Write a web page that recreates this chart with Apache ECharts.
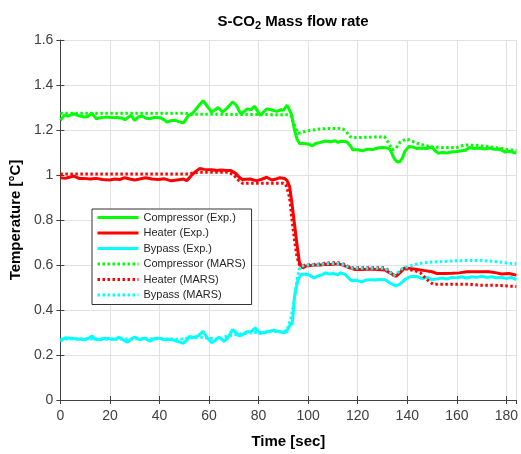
<!DOCTYPE html>
<html>
<head>
<meta charset="utf-8">
<script src="https://cdn.jsdelivr.net/npm/echarts@6/dist/echarts.min.js"></script>
<style>
	html,body{margin:0;padding:0;background:#fff;}
	#chart{width:521px;height:454px;}
</style>
</head>
<body>
<div id="chart"></div>
<script>
	// Compressor (Exp.)
	var compExpT=[0,1.6,3,5.5,7,9.5,11,12.7,14.5,16.5,18.7,21,23,25,26,28.5,30,31.5,33,34.5,36,38,40.4,42,43,45,46.4,48,49.7,51.7,53,54.3,56,57.6,59,61,62.5,63.6,65.5,67.5,69.5,71,72.8,74,75.4,77,78.3,80.7,82,83.3,85,87.3,89,90,91.5,93.2,94.5,95.5,96.5,98,100,101.7,103,105,107,109,111,112,113,115.6,117,118,120,122,124,126,128,130,132,133,134,135,136,137,138,139,140.7,142,144,146,148,150,151,152.5,154,156,158,160,162,163.5,165,167,169,171,173,175,177,179.6,181,183,184];
	var compExpV=[1.243,1.265,1.262,1.272,1.265,1.258,1.26,1.275,1.25,1.255,1.258,1.255,1.256,1.252,1.246,1.265,1.243,1.258,1.262,1.252,1.25,1.256,1.254,1.245,1.235,1.242,1.243,1.236,1.232,1.265,1.27,1.287,1.31,1.33,1.31,1.28,1.29,1.30,1.28,1.30,1.325,1.31,1.272,1.28,1.294,1.29,1.306,1.265,1.28,1.294,1.29,1.283,1.29,1.287,1.311,1.272,1.2,1.16,1.14,1.14,1.138,1.13,1.14,1.145,1.151,1.148,1.152,1.145,1.15,1.148,1.13,1.112,1.112,1.108,1.115,1.113,1.12,1.122,1.12,1.115,1.09,1.068,1.058,1.06,1.075,1.105,1.127,1.125,1.118,1.12,1.118,1.125,1.11,1.097,1.1,1.098,1.103,1.104,1.108,1.11,1.122,1.118,1.12,1.116,1.12,1.114,1.116,1.102,1.106,1.1,1.098];

	// Heater (Exp.)
	var heatExpT=[0,2,3.5,5.5,7.5,9.5,12,14.5,17,19.8,22,24,26,28,30,32,34.4,37,39.6,42,44.8,47,49.7,51,53,54.5,56.3,58,61,63,65,67,68.8,71,72.2,73.4,76.6,78,79.2,81,83.3,85.3,87,88.6,90.6,91.5,92.5,93.5,94.5,95.5,96.5,97.8,99,101,103,105,107,109,112,114,116,119,122,125,128,131,133,135.4,137,139,141,144,147,150,152,155,158,161,164,167,170,173,176,178,181,184];
	var heatExpV=[0.988,0.985,0.99,0.995,0.985,0.985,0.982,0.985,0.98,0.978,0.982,0.98,0.988,0.982,0.978,0.982,0.988,0.982,0.98,0.983,0.974,0.978,0.982,0.975,0.999,1.015,1.029,1.025,1.023,1.02,1.022,1.02,1.02,1.005,0.99,0.98,0.982,0.978,0.975,0.98,0.99,0.978,0.982,0.988,0.984,0.975,0.95,0.87,0.78,0.69,0.61,0.587,0.595,0.598,0.6,0.6,0.603,0.602,0.605,0.6,0.59,0.58,0.58,0.582,0.58,0.578,0.565,0.55,0.565,0.587,0.585,0.58,0.575,0.57,0.562,0.562,0.563,0.565,0.57,0.57,0.57,0.57,0.565,0.56,0.562,0.555];

	// Bypass (Exp.)
	var bypExpT=[0,1,2,4,6,8,10,11.5,12.8,14,16,18,20,22,23.5,25,27,28.5,30,32,34,36,38,40,42,44,46,48,49.5,51,52,54,55.5,57.6,59,61,62.5,64,66,67.5,69.5,71,72,73.5,75,77,78.7,80.5,82,84,86,88,90,91.2,92.6,93.6,94.5,95.9,97.2,99,100.5,102.4,104,105.5,107,108.5,110,112,113,115,116,117.5,119.5,121.5,123,125,127,129,131,133,135.3,137,139,141,142.7,144,146,148,150,152,154,156,158,160,162,164,166,168,170,172,174,176,178,180,182,184];
	var bypExpV=[0.26,0.27,0.277,0.275,0.272,0.27,0.268,0.275,0.285,0.27,0.268,0.275,0.272,0.27,0.278,0.27,0.257,0.27,0.28,0.268,0.275,0.262,0.272,0.275,0.268,0.27,0.265,0.258,0.252,0.265,0.282,0.278,0.285,0.305,0.28,0.255,0.265,0.28,0.26,0.275,0.313,0.3,0.285,0.29,0.302,0.305,0.32,0.295,0.3,0.305,0.31,0.305,0.3,0.302,0.332,0.34,0.463,0.536,0.558,0.56,0.555,0.543,0.552,0.556,0.565,0.56,0.562,0.557,0.565,0.558,0.545,0.53,0.532,0.525,0.532,0.535,0.533,0.536,0.535,0.52,0.507,0.515,0.535,0.548,0.55,0.548,0.54,0.545,0.535,0.538,0.542,0.538,0.545,0.543,0.548,0.542,0.548,0.545,0.55,0.545,0.548,0.543,0.545,0.54,0.545,0.535];

	// Compressor (MARS)
	var compMarsT=[0,50,55,90,91.5,93,94.5,96,97.5,100,104.4,108,112.3,114,115.5,117,118.3,125,130.8,132,134,135.5,137,139.4,141,144,147,150.6,155,159.8,162,163.8,168,173,177,181,184];
	var compMarsV=[1.275,1.275,1.27,1.268,1.268,1.265,1.22,1.185,1.19,1.197,1.204,1.207,1.207,1.205,1.19,1.17,1.166,1.168,1.17,1.15,1.112,1.12,1.145,1.16,1.155,1.141,1.132,1.124,1.122,1.122,1.13,1.133,1.132,1.125,1.12,1.112,1.11];

	// Heater (MARS)
	var heatMarsT=[0,52,54,56,68,70,72,73.5,90,91,92.5,93.5,94.5,95.5,96.5,98,101,104,108,112,114,116,118,124,131,133,134.5,136,138.5,140.5,143,145.3,147,149,150.6,155,160,165,170,175,180,184];
	var heatMarsV=[1.005,1.005,1.01,1.012,1.012,1.0,0.975,0.963,0.963,0.958,0.9,0.8,0.71,0.635,0.6,0.598,0.602,0.604,0.609,0.61,0.605,0.595,0.587,0.588,0.588,0.57,0.551,0.56,0.585,0.58,0.575,0.565,0.545,0.525,0.514,0.515,0.515,0.514,0.51,0.51,0.507,0.504];

	// Bypass (MARS)
	var bypMarsT=[0,10,20,30,40,48,52,56,60,64,66,70,74,78,82,86,90,91.5,93,94.5,95.5,96.3,97.2,99,101,104,108,112,114,116,118,124,131,133,134.5,136,138,141,144,147,150,155,160,165,170,174,178,181,184];
	var bypMarsV=[0.27,0.272,0.27,0.272,0.272,0.27,0.275,0.28,0.275,0.27,0.28,0.29,0.295,0.3,0.3,0.305,0.302,0.31,0.36,0.449,0.53,0.58,0.595,0.598,0.6,0.602,0.606,0.607,0.602,0.592,0.585,0.586,0.585,0.568,0.553,0.565,0.585,0.595,0.605,0.61,0.613,0.616,0.619,0.62,0.62,0.617,0.612,0.608,0.606];

	var xTicks=[0,20,40,60,80,100,120,140,160,180];

	var font='"Liberation Sans", Arial, Helvetica, sans-serif';
	var axisColor='#404040';

	function pairs(t,v){
		return t.map(function(x,i){return [x,v[i]];});
	}

	function solid(name,color,t,v){
		return {
			name:name,
			type:'line',
			symbol:'none',
			animation:false,
			lineStyle:{color:color,width:3},
			itemStyle:{color:color},
			data:pairs(t,v)
		};
	}

	function dotted(name,color,t,v){
		return {
			name:name,
			type:'line',
			symbol:'none',
			animation:false,
			lineStyle:{color:color,width:3,type:[2.5,2.5],cap:'butt'},
			itemStyle:{color:color},
			data:pairs(t,v)
		};
	}

	var chart=echarts.init(document.getElementById('chart'));
	chart.setOption({
		backgroundColor:'#fff',
		textStyle:{fontFamily:font},
		title:{
			text:'S-CO{sub|2} Mass flow rate',
			left:288,
			top:7,
			textAlign:'center',
			textStyle:{
				fontFamily:font,fontSize:15,fontWeight:'bold',color:'#000',
				rich:{sub:{fontFamily:font,fontSize:11,fontWeight:'bold',color:'#000',verticalAlign:'bottom',padding:[8,0,0,0]}}
			}
		},
		legend:{
			orient:'vertical',
			left:92,
			top:209,
			padding:[3,6,4,4],
			itemWidth:41,
			itemHeight:12,
			itemGap:4.5,
			backgroundColor:'#fff',
			borderColor:'#333',
			borderWidth:1,
			itemStyle:{opacity:0},
			lineStyle:{width:3},
			textStyle:{fontFamily:font,fontSize:11,color:'#262626'},
			data:['Compressor (Exp.)','Heater (Exp.)','Bypass (Exp.)','Compressor (MARS)','Heater (MARS)','Bypass (MARS)']
		},
		grid:{left:56,right:0,top:40,bottom:48},
		xAxis:[{
			type:'value',
			min:0,
			max:184,
			interval:20,
			name:'Time [sec]',
			nameLocation:'middle',
			nameGap:34,
			nameTextStyle:{fontFamily:font,fontSize:15,fontWeight:'bold',color:'#000'},
			axisLine:{lineStyle:{color:axisColor,width:1}},
			axisTick:{inside:true,length:4,lineStyle:{color:axisColor}},
			axisLabel:{color:'#404040',fontSize:14,margin:9,showMaxLabel:false,
				formatter:function(v){return xTicks.indexOf(v)>=0?String(v):'';}},
			splitLine:{show:true,lineStyle:{color:'#e2e2e2',width:1}}
		},{
			type:'value',
			position:'top',
			min:0,
			max:184,
			interval:20,
			axisLine:{lineStyle:{color:axisColor,width:1}},
			axisTick:{inside:true,length:4,lineStyle:{color:axisColor}},
			axisLabel:{show:false},
			splitLine:{show:false}
		}],
		yAxis:[{
			type:'value',
			min:0,
			max:1.6,
			interval:0.2,
			name:'Temperature [°C]',
			nameLocation:'middle',
			nameGap:34,
			nameTextStyle:{fontFamily:font,fontSize:15,fontWeight:'bold',color:'#000'},
			axisLine:{show:true,lineStyle:{color:axisColor,width:1}},
			axisTick:{show:true,inside:true,length:4,lineStyle:{color:axisColor}},
			axisLabel:{color:'#404040',fontSize:14,margin:7},
			splitLine:{show:true,lineStyle:{color:'#e2e2e2',width:1}}
		},{
			type:'value',
			position:'right',
			min:0,
			max:1.6,
			interval:0.2,
			axisLine:{show:false},
			axisTick:{show:true,inside:true,length:4,lineStyle:{color:axisColor}},
			axisLabel:{show:false},
			splitLine:{show:false}
		}],
		series:[
			solid('Compressor (Exp.)','#00ff00',compExpT,compExpV),
			solid('Heater (Exp.)','#ff0000',heatExpT,heatExpV),
			solid('Bypass (Exp.)','#00ffff',bypExpT,bypExpV),
			dotted('Compressor (MARS)','#00ff00',compMarsT,compMarsV),
			dotted('Heater (MARS)','#ff0000',heatMarsT,heatMarsV),
			dotted('Bypass (MARS)','#00ffff',bypMarsT,bypMarsV)
		]
	});
</script>
</body>
</html>
